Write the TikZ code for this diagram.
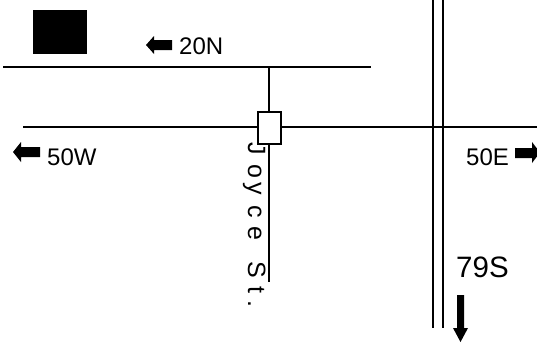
\documentclass[tikz,border=0pt]{standalone}
\usepackage{fontspec}
\setmainfont{Liberation Sans}
\begin{document}
\begin{tikzpicture}[x=1pt,y=-1pt,
  road/.style={line width=1.2pt,black},
  dirlbl/.style={inner sep=0pt,anchor=base west,font=\fontsize{24pt}{28pt}\selectfont},
  biglbl/.style={inner sep=0pt,anchor=base west,font=\fontsize{29.5pt}{34pt}\selectfont},
  streetlbl/.style={inner sep=0pt,anchor=base west,rotate=-90,font=\fontsize{25pt}{29pt}\selectfont},
  arrowshape/.style={fill=black,draw=none}]
\useasboundingbox (0,0) rectangle (537,351);
\fill[white] (0,0) rectangle (537,351);

% black square
\fill[black] (33,10) rectangle (87,54);

% coordinates of roads
\coordinate (nW) at (3,67);
\coordinate (nE) at (371,67);
\coordinate (mW) at (23,127);
\coordinate (mE) at (537,127);
\coordinate (jT) at (269,67);
\coordinate (jB) at (269,282);
\coordinate (aT) at (433,0);
\coordinate (aB) at (433,328);
\coordinate (bT) at (443,0);
\coordinate (bB) at (443,328);
\coordinate (tk1) at (207,67);
\coordinate (tk2) at (218,67);

\draw[road] (nW) -- (nE);
\draw[line width=2.4pt] (tk1) -- (tk2);
\draw[road] (mW) -- (mE);
\draw[road] (jT) -- (jB);
\draw[road] (aT) -- (aB);
\draw[road] (bT) -- (bB);

% small box
\node[draw,line width=1.2pt,fill=white,minimum width=23pt,minimum height=32pt,inner sep=0pt] (box) at (269.5,128) {};

% arrows
\fill[arrowshape] (146,45) -- (154,36) -- (154,40) -- (172,40) -- (172,50) -- (154,50) -- (154,54) -- cycle;
\fill[arrowshape] (13,152) -- (21,142) -- (21,147) -- (40,147) -- (40,157) -- (21,157) -- (21,162) -- cycle;
\fill[arrowshape] (540,152.5) -- (532,142) -- (532,148) -- (515,148) -- (515,158) -- (532,158) -- (532,163) -- cycle;
\fill[arrowshape] (460.5,342) -- (453,328) -- (457,328) -- (457,295) -- (464,295) -- (464,328) -- (468,328) -- cycle;

% labels
\node[dirlbl] (n20) at (179,54) {20N};
\node[dirlbl] (w50) at (47,165) {50W};
\node[dirlbl] (e50) at (466,165) {50E};
\node[biglbl] (s79) at (456,277) {79S};

% Joyce St.
\node[streetlbl] (l1) at (248,142.5) {J};
\node[streetlbl] (l2) at (248,164) {o};
\node[streetlbl] (l3) at (248,182) {y};
\node[streetlbl] (l4) at (248,205) {c};
\node[streetlbl] (l5) at (248,226) {e};
\node[streetlbl] (l6) at (248,261) {S};
\node[streetlbl] (l7) at (248,286.5) {t};
\node[streetlbl] (l8) at (248,300) {.};
\end{tikzpicture}
\end{document}
